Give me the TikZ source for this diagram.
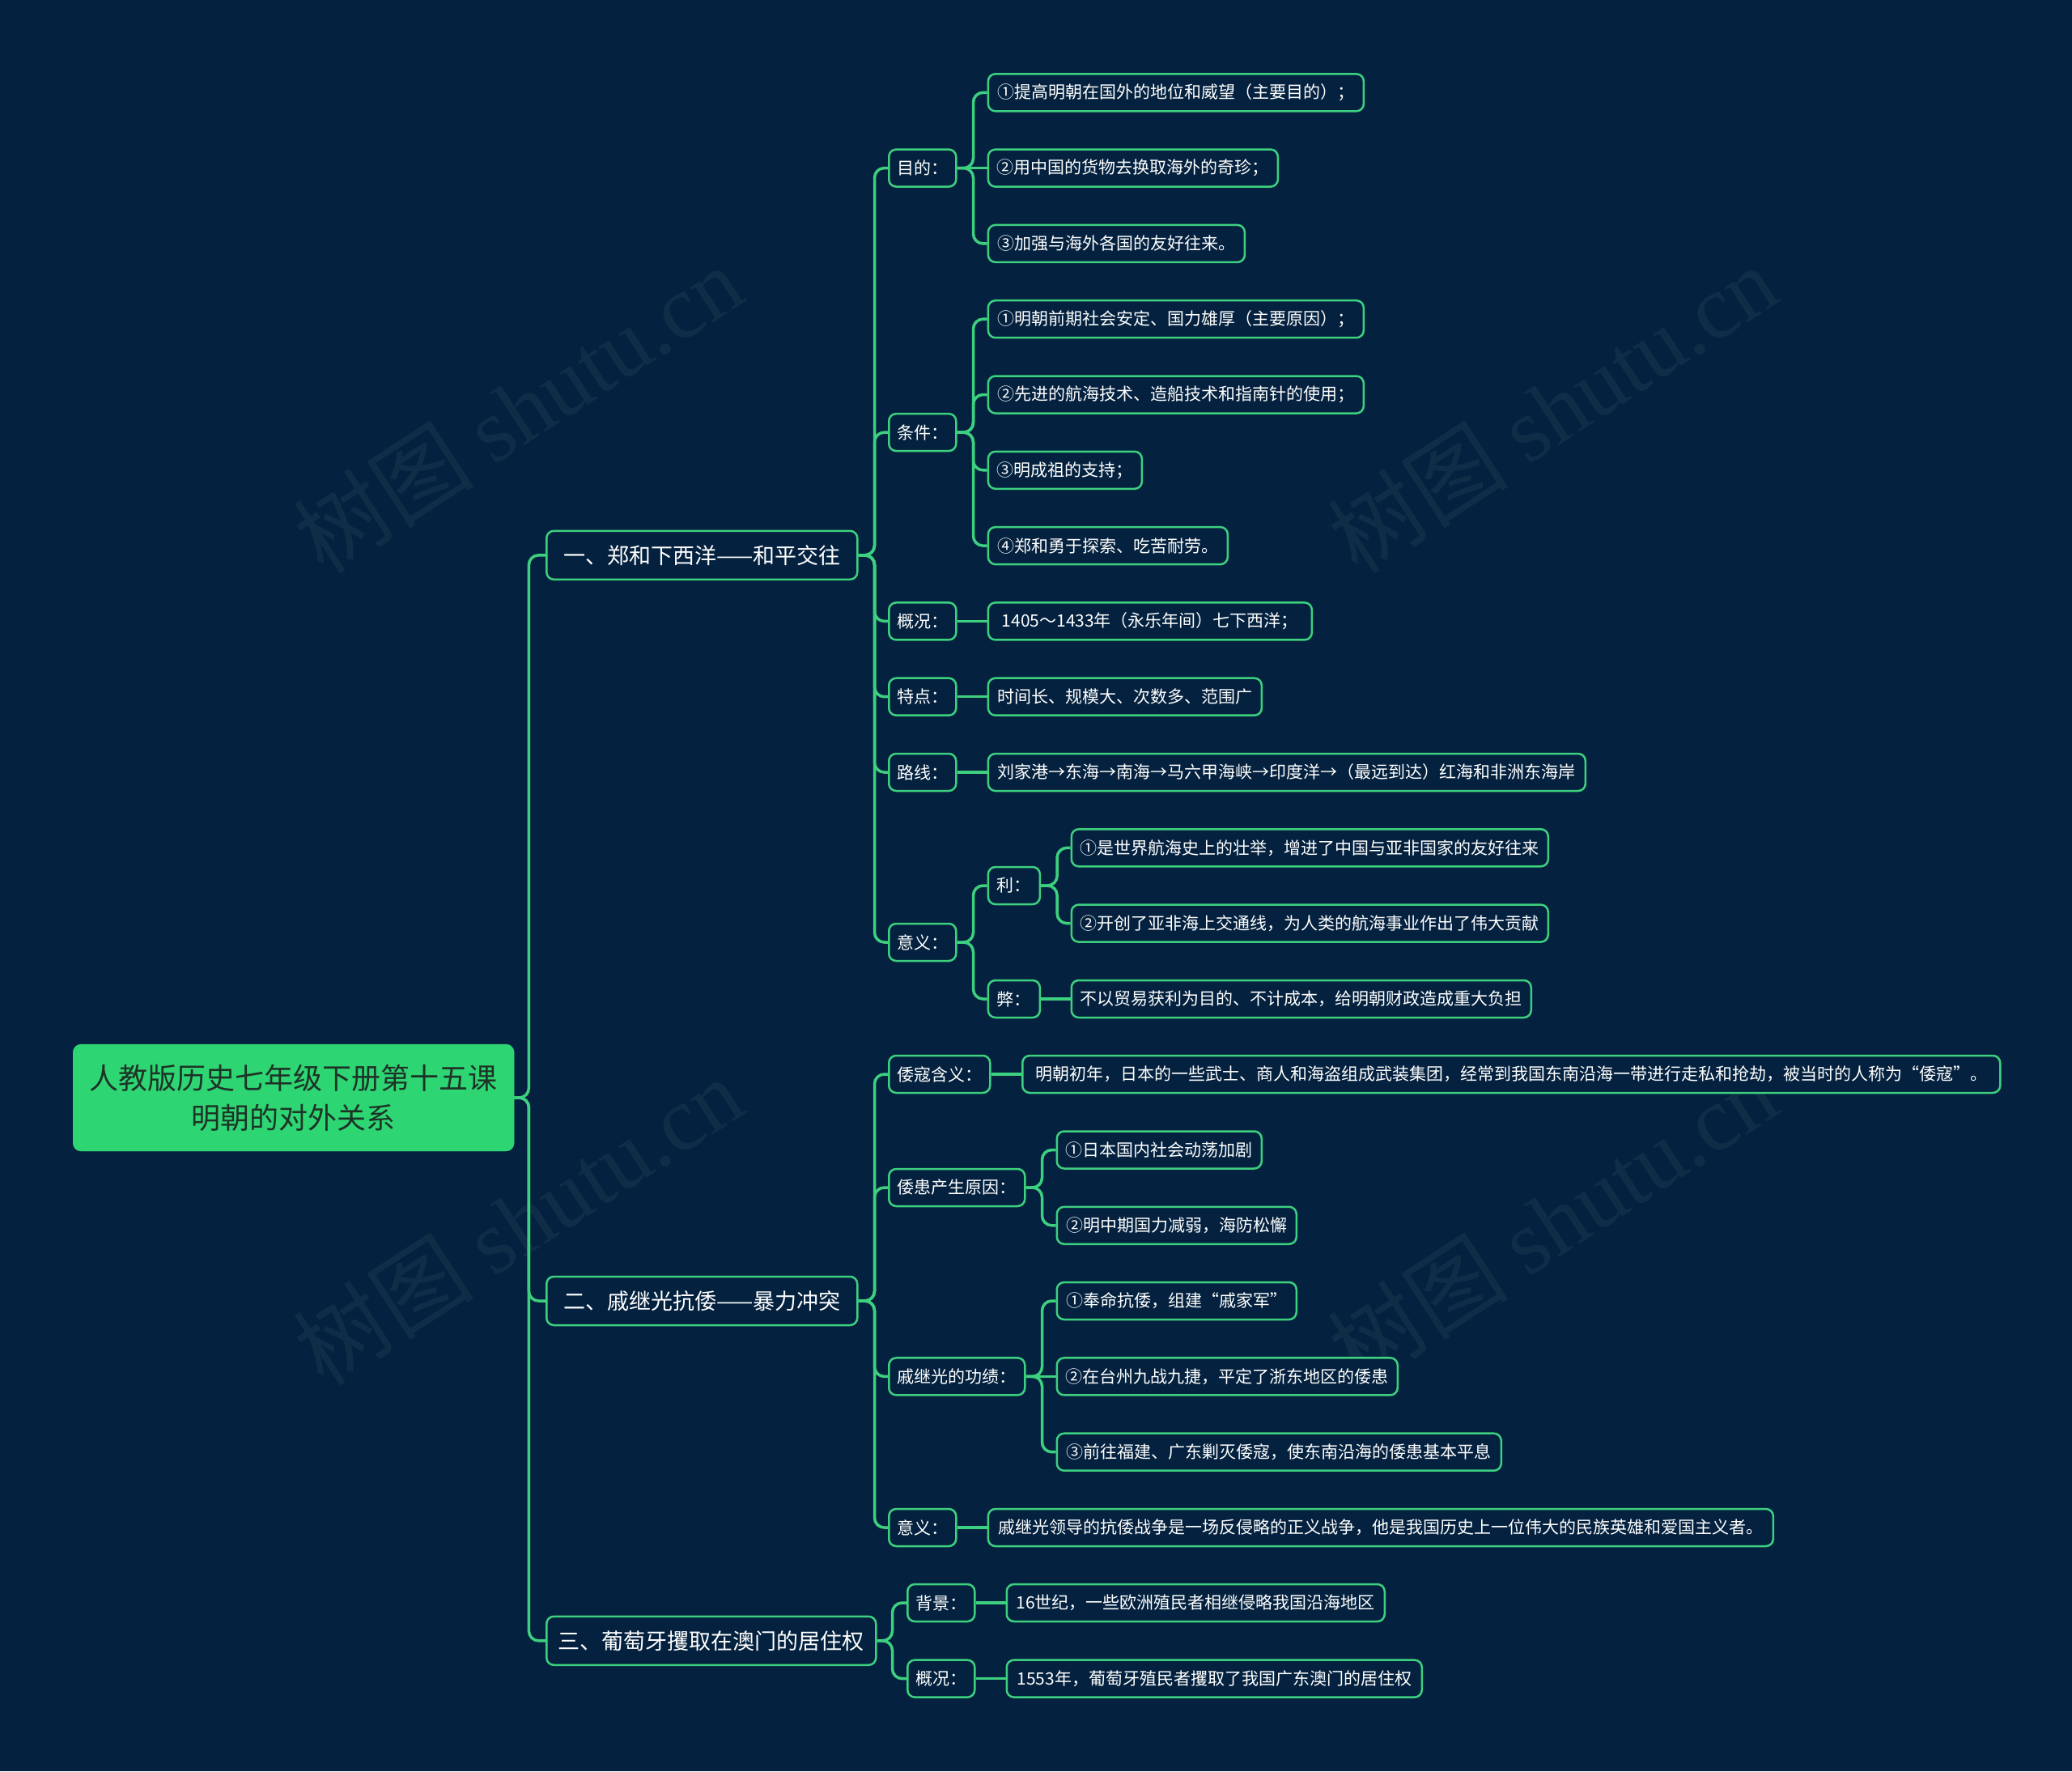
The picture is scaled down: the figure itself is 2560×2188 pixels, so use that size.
\documentclass[tikz,border=0pt]{standalone}
\usepackage{fontspec}
\setmainfont{Noto Sans CJK SC}
\newfontfamily\wmserif{Liberation Serif}
\usetikzlibrary{calc}
\definecolor{bg}{HTML}{04223F}
\definecolor{lg}{HTML}{3DD07F}
\definecolor{rootfill}{HTML}{2ED573}
\definecolor{roottext}{HTML}{1E3327}
\begin{document}
\begin{tikzpicture}[x=1pt,y=-1pt,
  box/.style={draw=lg, line width=2.5pt, rounded corners=9pt, fill=bg, text=white,
    inner xsep=11pt, inner ysep=0pt, anchor=west, minimum height=46pt},
  leaf/.style={box, font=\fontsize{21pt}{25pt}\selectfont},
  lab/.style={box, font=\fontsize{21pt}{25pt}\selectfont, inner xsep=10pt},
  sec/.style={box, font=\fontsize{27pt}{32pt}\selectfont, minimum height=60pt, inner xsep=14pt},
  rootbox/.style={draw=rootfill, fill=rootfill, text=roottext, rounded corners=10pt,
    anchor=west, minimum width=545pt, minimum height=132pt, align=center,
    font=\fontsize{36pt}{49pt}\selectfont},
  conn/.style={draw=lg, line width=3.5pt, rounded corners=12pt},
  wm/.style={rotate=33, text=white, opacity=0.05, font=\fontsize{112pt}{120pt}\selectfont},
]
\fill[bg] (0,0) rectangle (2560,2188);
\useasboundingbox (0,0) rectangle (2560,2188);

% watermarks
\node[wm] (wm1) at (640,505) {树图 {\wmserif shutu.cn}};
\node[wm] (wm2) at (1918,505) {树图 {\wmserif shutu.cn}};
\node[wm] (wm3) at (640,1508) {树图 {\wmserif shutu.cn}};
\node[wm] (wm4) at (1918,1508) {树图 {\wmserif shutu.cn}};

% root
\node[rootbox] (root) at (90,1356) {人教版历史七年级下册第十五课\\明朝的对外关系};

% sections
\node[sec, minimum width=384pt] (s1) at (674,685.8) {一、郑和下西洋——和平交往};
\node[sec, minimum width=384pt] (s2) at (674,1607) {二、戚继光抗倭——暴力冲突};
\node[sec, minimum width=407pt] (s3) at (674,2026.8) {三、葡萄牙攫取在澳门的居住权};

% labels
\node[lab, minimum width=83pt] (a1) at (1097,207.6) {目的：};
\node[lab, minimum width=83pt] (a2) at (1097,534.1) {条件：};
\node[lab, minimum width=83pt] (a3) at (1097,767.4) {概况：};
\node[lab, minimum width=83pt] (a4) at (1097,860.7) {特点：};
\node[lab, minimum width=83pt] (a5) at (1097,954) {路线：};
\node[lab, minimum width=83pt] (a6) at (1097,1164) {意义：};
\node[lab, minimum width=64pt] (y1) at (1219.6,1094) {利：};
\node[lab, minimum width=64pt] (y2) at (1219.6,1234) {弊：};
\node[lab, minimum width=121pt] (b1) at (1097,1327) {倭寇含义：};
\node[lab, minimum width=168pt] (b2) at (1097,1467) {倭患产生原因：};
\node[lab, minimum width=168pt] (b3) at (1097,1700.4) {戚继光的功绩：};
\node[lab, minimum width=83pt] (b4) at (1097,1887) {意义：};
\node[lab, minimum width=83pt] (c1) at (1120,1980) {背景：};
\node[lab, minimum width=83pt] (c2) at (1120,2073.6) {概况：};

% leaves
\node[leaf, minimum width=464pt] (l0) at (1219.6,114.3) {①提高明朝在国外的地位和威望（主要目的）；};
\node[leaf, minimum width=358pt] (l1) at (1219.6,207.6) {②用中国的货物去换取海外的奇珍；};
\node[leaf, minimum width=317pt] (l2) at (1219.6,300.9) {③加强与海外各国的友好往来。};
\node[leaf, minimum width=464pt] (l3) at (1219.6,394.2) {①明朝前期社会安定、国力雄厚（主要原因）；};
\node[leaf, minimum width=464pt] (l4) at (1219.6,487.5) {②先进的航海技术、造船技术和指南针的使用；};
\node[leaf, minimum width=189pt] (l5) at (1219.6,580.8) {③明成祖的支持；};
\node[leaf, minimum width=296pt] (l6) at (1219.6,674.1) {④郑和勇于探索、吃苦耐劳。};
\node[leaf, minimum width=400pt] (l7) at (1219.6,767.4) {1405～1433年（永乐年间）七下西洋；};
\node[leaf, minimum width=338pt] (l8) at (1219.6,860.7) {时间长、规模大、次数多、范围广};
\node[leaf, minimum width=738pt] (l9) at (1219.6,954) {刘家港→东海→南海→马六甲海峡→印度洋→（最远到达）红海和非洲东海岸};
\node[leaf, minimum width=589pt] (l10) at (1322.5,1047.3) {①是世界航海史上的壮举，增进了中国与亚非国家的友好往来};
\node[leaf, minimum width=589pt] (l11) at (1322.5,1140.6) {②开创了亚非海上交通线，为人类的航海事业作出了伟大贡献};
\node[leaf, minimum width=567pt] (l12) at (1322.5,1234) {不以贸易获利为目的、不计成本，给明朝财政造成重大负担};
\node[leaf, minimum width=1208pt] (l13) at (1262,1327) {明朝初年，日本的一些武士、商人和海盗组成武装集团，经常到我国东南沿海一带进行走私和抢劫，被当时的人称为“倭寇”。};
\node[leaf, minimum width=253pt] (l14) at (1304.5,1420.5) {①日本国内社会动荡加剧};
\node[leaf, minimum width=296pt] (l15) at (1304.5,1513.8) {②明中期国力减弱，海防松懈};
\node[leaf, minimum width=296pt] (l16) at (1304.5,1607) {①奉命抗倭，组建“戚家军”};
\node[leaf, minimum width=421pt] (l17) at (1304.5,1700.4) {②在台州九战九捷，平定了浙东地区的倭患};
\node[leaf, minimum width=549pt] (l18) at (1304.5,1793.7) {③前往福建、广东剿灭倭寇，使东南沿海的倭患基本平息};
\node[leaf, minimum width=970pt] (l19) at (1219.6,1887) {戚继光领导的抗倭战争是一场反侵略的正义战争，他是我国历史上一位伟大的民族英雄和爱国主义者。};
\node[leaf, minimum width=467pt] (l20) at (1242.5,1980) {16世纪，一些欧洲殖民者相继侵略我国沿海地区};
\node[leaf, minimum width=513pt] (l21) at (1242.5,2073.6) {1553年，葡萄牙殖民者攫取了我国广东澳门的居住权};

% connectors
\foreach \c in {s1,s2,s3} \draw[conn] (root.east) -- ++(18,0) |- (\c.west);
\foreach \c in {a1,a2,a3,a4,a5,a6} \draw[conn] (s1.east) -- ++(20,0) |- (\c.west);
\foreach \c in {b1,b2,b3,b4} \draw[conn] (s2.east) -- ++(20,0) |- (\c.west);
\foreach \c in {c1,c2} \draw[conn] (s3.east) -- ++(19,0) |- (\c.west);
\foreach \c in {l0,l2} \draw[conn] (a1.east) -- ++(20,0) |- (\c.west);
\draw[conn] (a1.east) -- (l1.west);
\foreach \c in {l3,l4,l5,l6} \draw[conn] (a2.east) -- ++(20,0) |- (\c.west);
\draw[conn] (a3.east) -- (l7.west);
\draw[conn] (a4.east) -- (l8.west);
\draw[conn] (a5.east) -- (l9.west);
\foreach \c in {y1,y2} \draw[conn] (a6.east) -- ++(20,0) |- (\c.west);
\foreach \c in {l10,l11} \draw[conn] (y1.east) -- ++(20,0) |- (\c.west);
\draw[conn] (y2.east) -- (l12.west);
\draw[conn] (b1.east) -- (l13.west);
\foreach \c in {l14,l15} \draw[conn] (b2.east) -- ++(20,0) |- (\c.west);
\foreach \c in {l16,l18} \draw[conn] (b3.east) -- ++(20,0) |- (\c.west);
\draw[conn] (b3.east) -- (l17.west);
\draw[conn] (b4.east) -- (l19.west);
\draw[conn] (c1.east) -- (l20.west);
\draw[conn] (c2.east) -- (l21.west);
\end{tikzpicture}
\end{document}
